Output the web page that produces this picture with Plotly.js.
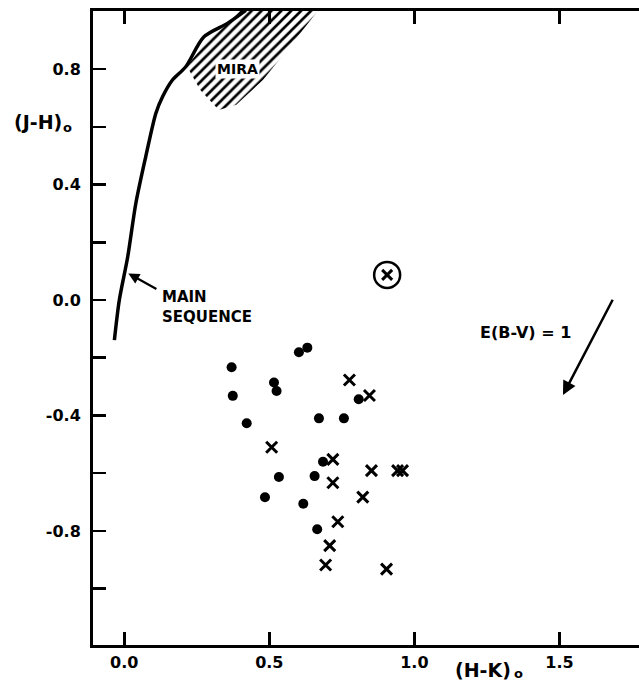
<!DOCTYPE html>
<html>
<head>
<meta charset="utf-8">
<script src="https://cdn.plot.ly/plotly-3.0.1.min.js"></script>
<style>html,body{margin:0;padding:0;background:#fff;overflow:hidden}</style>
</head>
<body>
<div id="chart" style="width:639px;height:684px"></div>
<script>
// ---- data ----
const mainSeqX = [-0.034, -0.017, 0.012, 0.040, 0.074, 0.109, 0.132, 0.166, 0.212, 0.274, 0.357, 0.419];
const mainSeqY = [-0.139, 0.000, 0.150, 0.335, 0.496, 0.647, 0.704, 0.762, 0.808, 0.911, 0.959, 1.003];

const miraX = [0.406, 0.672, 0.575, 0.478, 0.386, 0.326, 0.262, 0.216, 0.281, 0.350, 0.406];
const miraY = [1.008, 1.008, 0.883, 0.762, 0.676, 0.658, 0.727, 0.810, 0.893, 0.952, 1.008];

const dotX = [0.370, 0.374, 0.422, 0.516, 0.525, 0.602, 0.631, 0.671, 0.757, 0.808, 0.685, 0.533, 0.656, 0.485, 0.617, 0.665];
const dotY = [-0.233, -0.332, -0.427, -0.286, -0.315, -0.181, -0.165, -0.410, -0.410, -0.344, -0.560, -0.613, -0.610, -0.683, -0.706, -0.794];

const crossX = [0.776, 0.845, 0.508, 0.719, 0.719, 0.852, 0.942, 0.959, 0.822, 0.736, 0.708, 0.694, 0.904];
const crossY = [-0.277, -0.331, -0.510, -0.552, -0.633, -0.591, -0.591, -0.591, -0.683, -0.768, -0.851, -0.918, -0.932];

const circledX = [0.906];
const circledY = [0.087];

// reddening vector E(B-V)=1 : [tail, head]
const reddenX = [1.686, 1.512];
const reddenY = [0.006, -0.329];

// pointer from "MAIN SEQUENCE" label to the curve : [tail, tip]
const msPointerX = [0.116, 0.014];
const msPointerY = [0.035, 0.092];

const xTickVals = [0.0, 0.5, 1.0, 1.5];
const xTickText = ['0.0', '0.5', '1.0', '1.5'];
const yTickVals = [-0.8, -0.4, 0.0, 0.4, 0.8];
const yTickText = ['-0.8', '-0.4', '0.0', '0.4', '0.8'];
const yMinorTickVals = [-1.0, -0.6, -0.2, 0.2, 0.6];

// ---- chart ----
const F = 'DejaVu Sans, Liberation Sans, sans-serif';
const yRange = [-1.195, 1.001];

const traces = [
  {
    x: miraX, y: miraY, type: 'scatter', mode: 'lines', fill: 'toself',
    line: {width: 0, color: 'rgba(0,0,0,0)'},
    fillcolor: 'white',
    fillpattern: {shape: '/', size: 7, solidity: 0.38, fgcolor: 'black', bgcolor: 'white'},
    hoverinfo: 'skip', showlegend: false
  },
  {
    x: mainSeqX, y: mainSeqY, type: 'scatter', mode: 'lines',
    line: {color: 'black', width: 3.5, shape: 'spline', smoothing: 0.8},
    showlegend: false
  },
  {
    x: dotX, y: dotY, type: 'scatter', mode: 'markers',
    marker: {symbol: 'circle', size: 10, color: 'black'},
    showlegend: false
  },
  {
    x: crossX, y: crossY, type: 'scatter', mode: 'markers',
    marker: {symbol: 'x-thin-open', size: 11, color: 'black', line: {color: 'black', width: 3}},
    showlegend: false
  },
  {
    x: circledX, y: circledY, type: 'scatter', mode: 'markers',
    marker: {symbol: 'circle-open', size: 26, color: 'black', line: {color: 'black', width: 2.5}},
    showlegend: false
  },
  {
    x: circledX, y: circledY, type: 'scatter', mode: 'markers',
    marker: {symbol: 'x-thin-open', size: 10, color: 'black', line: {color: 'black', width: 3}},
    showlegend: false
  }
];

const tickStyle = {ticks: 'inside', ticklen: 13, tickwidth: 2.5, tickcolor: 'black'};
const tickFont = {family: F, size: 16, weight: 700, color: 'black'};

const layout = {
  width: 639, height: 684,
  margin: {l: 93, r: 0, t: 11, b: 39},
  paper_bgcolor: 'white', plot_bgcolor: 'white',
  showlegend: false,
  xaxis: Object.assign({
    showline: true, linecolor: 'black', linewidth: 3, mirror: 'ticks',
    showgrid: false, zeroline: false, tickfont: tickFont,
    range: [-0.1077, 1.774], tickmode: 'array', tickvals: xTickVals, ticktext: xTickText,
    ticklabelstandoff: 1
  }, tickStyle),
  yaxis: Object.assign({
    showline: true, linecolor: 'black', linewidth: 3, mirror: false,
    showgrid: false, zeroline: false, tickfont: tickFont,
    range: yRange, tickmode: 'array', tickvals: yTickVals, ticktext: yTickText,
    ticklabelstandoff: 6,
    minor: Object.assign({tickmode: 'array', tickvals: yMinorTickVals, showgrid: false}, tickStyle)
  }, tickStyle),
  yaxis2: Object.assign({
    overlaying: 'y', side: 'right', range: yRange, showline: false,
    showgrid: false, zeroline: false, showticklabels: false,
    tickmode: 'array', tickvals: yTickVals.concat(yMinorTickVals)
  }, tickStyle, {ticklen: 12}),
  annotations: [
    {
      x: reddenX[1], y: reddenY[1], ax: reddenX[0], ay: reddenY[0],
      xref: 'x', yref: 'y', axref: 'x', ayref: 'y', text: '', showarrow: true,
      arrowhead: 2, arrowsize: 1.1, arrowwidth: 2.5, arrowcolor: 'black'
    },
    {
      x: msPointerX[1], y: msPointerY[1], ax: msPointerX[0], ay: msPointerY[0],
      xref: 'x', yref: 'y', axref: 'x', ayref: 'y', text: '', showarrow: true,
      arrowhead: 2, arrowsize: 1, arrowwidth: 2.2, arrowcolor: 'black'
    },
    {
      x: 0.39, y: 0.80, xref: 'x', yref: 'y', text: 'MIRA', showarrow: false,
      font: {family: F, size: 14, weight: 700, color: 'black'}, bgcolor: 'white', borderpad: 1
    },
    {
      x: 0.124, y: 0.05, xref: 'x', yref: 'y', xanchor: 'left', yanchor: 'top', align: 'left',
      text: 'MAIN<br>SEQUENCE', showarrow: false,
      font: {family: F, size: 15, weight: 700, color: 'black'}
    },
    {
      x: 1.382, y: -0.114, xref: 'x', yref: 'y', text: 'E(B-V) = 1', showarrow: false,
      font: {family: F, size: 16, weight: 700, color: 'black'}
    },
    {
      x: 1.237, y: -0.0394, xref: 'x', yref: 'paper', xanchor: 'center', yanchor: 'middle',
      text: '(H-K)', showarrow: false,
      font: {family: F, size: 19, weight: 700, color: 'black'}
    },
    {
      x: 1.36, y: -0.045, xref: 'x', yref: 'paper', xanchor: 'center', yanchor: 'middle',
      text: 'o', showarrow: false,
      font: {family: F, size: 13, weight: 700, color: 'black'}
    },
    {
      x: -0.1016, y: 0.616, xref: 'paper', yref: 'y', xanchor: 'center', yanchor: 'middle',
      text: '(J-H)', showarrow: false,
      font: {family: F, size: 19, weight: 700, color: 'black'}
    },
    {
      x: -0.047, y: 0.598, xref: 'paper', yref: 'y', xanchor: 'center', yanchor: 'middle',
      text: 'o', showarrow: false,
      font: {family: F, size: 13, weight: 700, color: 'black'}
    }
  ]
};

Plotly.newPlot('chart', traces, layout, {staticPlot: true, displayModeBar: false});
</script>
</body>
</html>
